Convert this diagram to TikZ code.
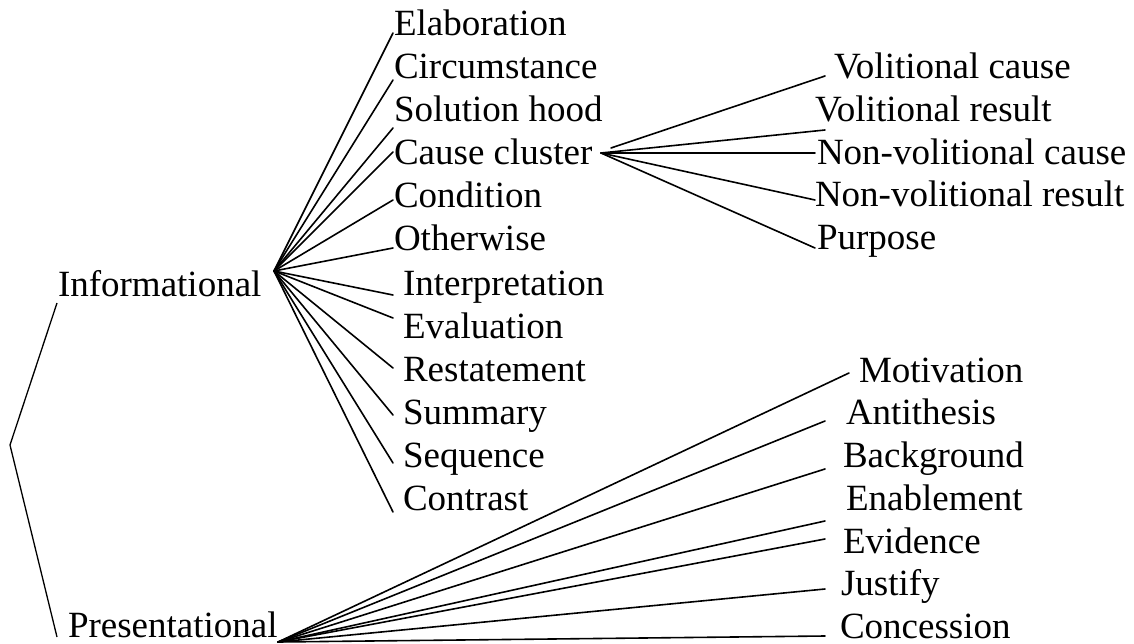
\documentclass[tikz,border=0pt]{standalone}
\usepackage{fontspec}
\setmainfont{Liberation Serif}
\begin{document}
\begin{tikzpicture}[x=1pt,y=-1pt,
  lbl/.style={anchor=base west,inner sep=0pt,outer sep=0pt,font=\fontsize{37}{44}\selectfont},
  conn/.style={line width=1.6pt,line cap=round,line join=round},
  brk/.style={line width=1.3pt,line join=miter}]
\useasboundingbox (0,0) rectangle (1134,644);
% top-level labels
\node[lbl] (inf) at (58,296) {Informational};
\node[lbl] (pres) at (68,637) {Presentational};
% bracket
\coordinate (bt) at (57,303);
\coordinate (bv) at (10,445);
\coordinate (bb) at (57,637);
\draw[brk] (bt) -- (bv) -- (bb);
% informational children
\node[lbl] (elab) at (394,36) {Elaboration};
\node[lbl] (circ) at (394,79) {Circumstance};
\node[lbl] (sol) at (394,122) {Solution hood};
\node[lbl] (cause) at (394,165) {Cause cluster};
\node[lbl] (cond) at (394,208) {Condition};
\node[lbl] (other) at (394,251) {Otherwise};
\node[lbl] (interp) at (403,295) {Interpretation};
\node[lbl] (eval) at (403,338) {Evaluation};
\node[lbl] (rest) at (403,381) {Restatement};
\node[lbl] (summ) at (403,424) {Summary};
\node[lbl] (seq) at (403,467) {Sequence};
\node[lbl] (contr) at (403,510) {Contrast};
\coordinate (infhub) at (274,271);
\coordinate (elab-in) at (393,33);
\coordinate (circ-in) at (393,80);
\coordinate (sol-in) at (393,128);
\coordinate (cause-in) at (393,152);
\coordinate (cond-in) at (393,200);
\coordinate (other-in) at (393,248);
\coordinate (interp-in) at (393,295);
\coordinate (eval-in) at (393,318);
\coordinate (rest-in) at (393,368);
\coordinate (summ-in) at (393,415);
\coordinate (seq-in) at (393,463);
\coordinate (contr-in) at (393,512);
\foreach \n in {elab,circ,sol,cause,cond,other,interp,eval,rest,summ,seq,contr}
  \draw[conn] (infhub) -- (\n-in);
% cause cluster children
\node[lbl] (vc) at (834,79) {Volitional cause};
\node[lbl] (vr) at (815,122) {Volitional result};
\node[lbl] (nvc) at (817,165) {Non-volitional cause};
\node[lbl] (nvr) at (815,207) {Non-volitional result};
\node[lbl] (purp) at (817,249) {Purpose};
\coordinate (cchub) at (601,153);
\coordinate (cchub2) at (611,148);
\coordinate (vc-in) at (825,76);
\coordinate (vr-in) at (825,130);
\coordinate (nvc-in) at (815,153);
\coordinate (nvr-in) at (815,200);
\coordinate (purp-in) at (815,248);
\draw[conn] (cchub2) -- (vc-in);
\foreach \n in {vr,nvc,nvr,purp}
  \draw[conn] (cchub) -- (\n-in);
% presentational children
\node[lbl] (motiv) at (859,382) {Motivation};
\node[lbl] (anti) at (846,424) {Antithesis};
\node[lbl] (backg) at (843,467) {Background};
\node[lbl] (enab) at (846,510) {Enablement};
\node[lbl] (evid) at (843,553) {Evidence};
\node[lbl] (just) at (841,595) {Justify};
\node[lbl] (conc) at (840,638) {Concession};
\coordinate (preshub) at (278,642);
\coordinate (motiv-in) at (849,373);
\coordinate (anti-in) at (825,421);
\coordinate (backg-in) at (825,469);
\coordinate (enab-in) at (825,521);
\coordinate (evid-in) at (825,539);
\coordinate (just-in) at (825,589);
\coordinate (conc-in) at (825,636);
\foreach \n in {motiv,anti,backg,enab,evid,just,conc}
  \draw[conn] (preshub) -- (\n-in);
\end{tikzpicture}
\end{document}
